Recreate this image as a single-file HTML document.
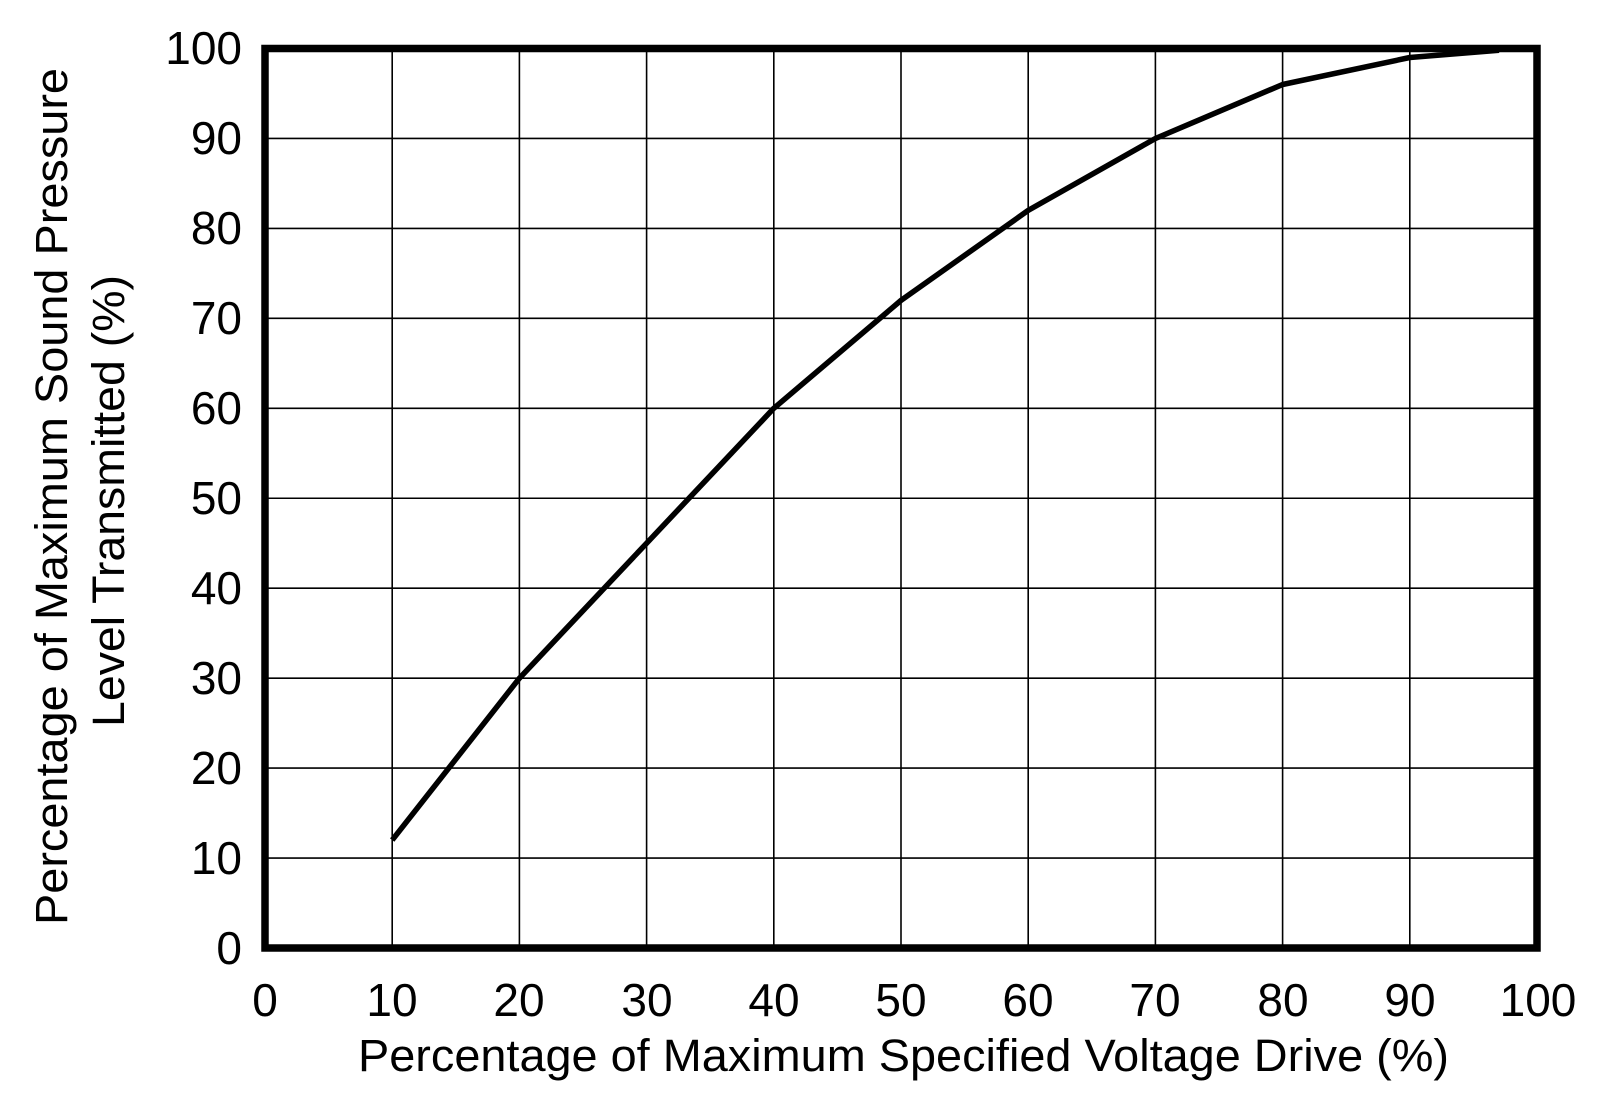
<!DOCTYPE html>
<html><head><style>body{margin:0;background:#fff}svg{display:block}</style></head><body>
<svg width="1621" height="1110" xmlns="http://www.w3.org/2000/svg" font-family="Liberation Sans, sans-serif" fill="#000">
<g stroke="#000" stroke-width="1.6">
<line x1="392.2" y1="48.5" x2="392.2" y2="948"/><line x1="519.4" y1="48.5" x2="519.4" y2="948"/><line x1="646.6" y1="48.5" x2="646.6" y2="948"/><line x1="773.8" y1="48.5" x2="773.8" y2="948"/><line x1="901" y1="48.5" x2="901" y2="948"/><line x1="1028.2" y1="48.5" x2="1028.2" y2="948"/><line x1="1155.4" y1="48.5" x2="1155.4" y2="948"/><line x1="1282.6" y1="48.5" x2="1282.6" y2="948"/><line x1="1409.8" y1="48.5" x2="1409.8" y2="948"/>
<line x1="265" y1="138.45" x2="1537" y2="138.45"/><line x1="265" y1="228.4" x2="1537" y2="228.4"/><line x1="265" y1="318.35" x2="1537" y2="318.35"/><line x1="265" y1="408.3" x2="1537" y2="408.3"/><line x1="265" y1="498.25" x2="1537" y2="498.25"/><line x1="265" y1="588.2" x2="1537" y2="588.2"/><line x1="265" y1="678.15" x2="1537" y2="678.15"/><line x1="265" y1="768.1" x2="1537" y2="768.1"/><line x1="265" y1="858.05" x2="1537" y2="858.05"/>
</g>
<rect x="265" y="48.5" width="1272" height="899.5" fill="none" stroke="#000" stroke-width="7.5"/>
<polyline fill="none" stroke="#000" stroke-width="5.5" stroke-linejoin="round" points="392.2,840.1 519.4,678.2 646.6,543.2 773.8,408.3 901,300.4 1028.2,210.4 1155.4,138.5 1282.6,84.5 1409.8,57.5 1499,50.3"/>
<g font-size="46" text-anchor="end">
<text x="242" y="64">100</text><text x="242" y="154">90</text><text x="242" y="244">80</text><text x="242" y="334">70</text><text x="242" y="424">60</text><text x="242" y="514">50</text><text x="242" y="604">40</text><text x="242" y="694">30</text><text x="242" y="784">20</text><text x="242" y="874">10</text><text x="242" y="964">0</text>
</g>
<g font-size="46" text-anchor="middle">
<text x="265" y="1016">0</text><text x="392" y="1016">10</text><text x="519" y="1016">20</text><text x="647" y="1016">30</text><text x="774" y="1016">40</text><text x="901" y="1016">50</text><text x="1028" y="1016">60</text><text x="1155" y="1016">70</text><text x="1283" y="1016">80</text><text x="1410" y="1016">90</text><text x="1538" y="1016">100</text>
</g>
<text x="358" y="1071" font-size="45" textLength="1091" lengthAdjust="spacingAndGlyphs">Percentage of Maximum Specified Voltage Drive (%)</text>
<text transform="translate(67,925) rotate(-90)" font-size="45" textLength="857" lengthAdjust="spacingAndGlyphs">Percentage of Maximum Sound Pressure</text>
<text transform="translate(124,727) rotate(-90)" font-size="45" textLength="452" lengthAdjust="spacingAndGlyphs">Level Transmitted (%)</text>
</svg>
</body></html>
